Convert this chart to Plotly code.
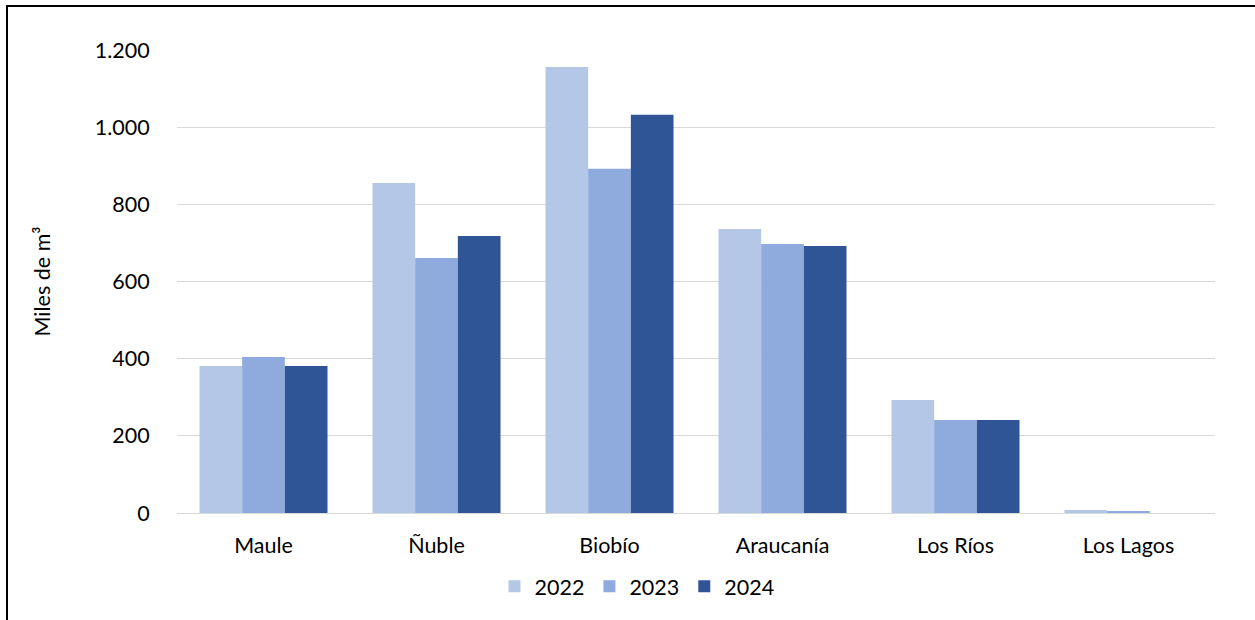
import plotly.graph_objects as go

regions = ["Maule", "Ñuble", "Biobío", "Araucanía", "Los Ríos", "Los Lagos"]
years = ["2022", "2023", "2024"]
v2022 = [381, 855, 1156, 736, 293, 8]
v2023 = [404, 661, 892, 697, 241, 3]
v2024 = [381, 718, 1032, 692, 241, 0]
colors = ["#B4C7E7", "#8FAADC", "#2F5597"]
tick_vals = [0, 200, 400, 600, 800, 1000, 1200]

FONT = "Lato, Calibri, Carlito, sans-serif"
FS = 21.5

fig = go.Figure()
for name, vals, col in zip(years, [v2022, v2023, v2024], colors):
    fig.add_trace(go.Bar(x=regions, y=vals, name=name, marker=dict(color=col, line=dict(width=0))))

W, H = 1255, 620
ml, mr, mt, mb = 177, 40, 50, 107
pw, ph = W - ml - mr, H - mt - mb

fig.update_layout(
    width=W, height=H,
    margin=dict(l=ml, r=mr, t=mt, b=mb, autoexpand=False),
    paper_bgcolor="white", plot_bgcolor="white",
    barmode="group", bargap=0.26, bargroupgap=0,
    separators=",.",
    font=dict(family=FONT, size=FS, color="#000000"),
    showlegend=True,
    legend=dict(orientation="h", x=(637 - ml) / pw, xanchor="center", y=-0.114, yanchor="top",
                font=dict(size=FS), itemwidth=30, traceorder="normal"),
    xaxis=dict(showgrid=False, showline=False, ticks="outside", ticklen=13, automargin=False,
               tickcolor="rgba(0,0,0,0)", tickfont=dict(size=FS)),
    yaxis=dict(range=[0, 1200], tickvals=tick_vals, separatethousands=True, tickformat=",d",
               automargin=False,
               showgrid=True, gridcolor="#D9D9D9", gridwidth=1,
               zeroline=True, zerolinecolor="#D9D9D9", zerolinewidth=1,
               showline=False, ticks="outside", ticklen=22, tickcolor="rgba(0,0,0,0)",
               tickfont=dict(size=FS),
               title=dict(text="Miles de m³", font=dict(size=FS), standoff=38)),
    shapes=[dict(type="rect", xref="paper", yref="paper",
                 x0=(7 - ml) / pw, x1=(W + 20 - ml) / pw,
                 y0=(mt + ph - (H + 20)) / ph, y1=(mt + ph - 6) / ph,
                 line=dict(color="#000000", width=2), fillcolor="rgba(0,0,0,0)", layer="below")],
)
fig.write_html("out.html")
